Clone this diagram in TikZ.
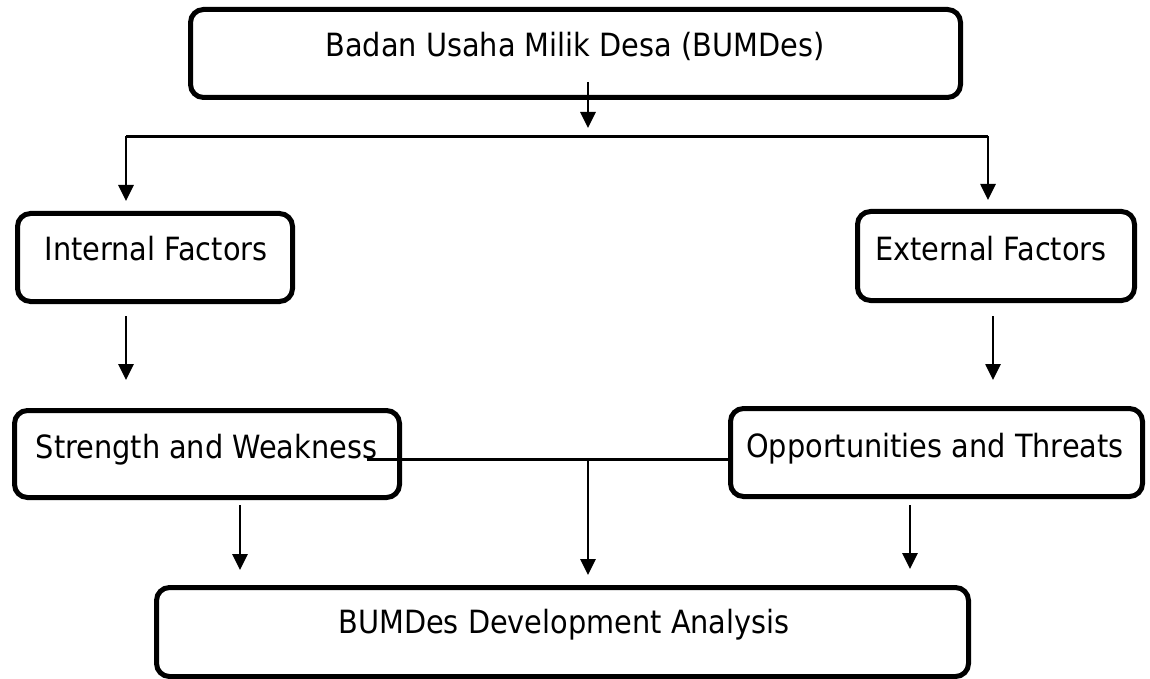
\documentclass[tikz,border=0pt]{standalone}
\usepackage{fontspec}
\setmainfont{DejaVu Sans Condensed}
\usetikzlibrary{arrows.meta}
\begin{document}
\begin{tikzpicture}[x=0.5pt,y=-0.5pt,
  box/.style={draw, line width=2.5pt, rounded corners=6.5pt, inner sep=0pt},
  lbl/.style={font=\fontsize{16pt}{19pt}\selectfont, inner sep=0pt, anchor=base},
  conn/.style={line width=1.35pt},
  arr/.style={conn, -{Triangle[width=7.5pt,length=8pt]}}]
\useasboundingbox (0,0) rectangle (1150,679);
% boxes (sizes in px, half a point each)
\node[box, minimum width=385pt, minimum height=44pt] (top) at (575.5,53.5) {};
\node[box, minimum width=137.5pt, minimum height=44pt] (int) at (155,257.5) {};
\node[box, minimum width=138.5pt, minimum height=44.5pt] (ext) at (996,256) {};
\node[box, minimum width=192.5pt, minimum height=43.5pt] (sw) at (207,454) {};
\node[box, minimum width=206pt, minimum height=44pt] (ot) at (936.5,452.5) {};
\node[box, minimum width=406pt, minimum height=44.5pt] (bot) at (562.5,632) {};
% labels
\node[lbl] (toptext) at (575,57) {Badan Usaha Milik Desa (BUMDes)};
\node[lbl] (inttext) at (156,260) {Internal Factors};
\node[lbl] (exttext) at (991,260) {External Factors};
\node[lbl] (swtext) at (206.5,458) {Strength and Weakness};
\node[lbl] (ottext) at (935,457) {Opportunities and Threats};
\node[lbl] (bottext) at (564,633) {BUMDes Development Analysis};
% connector points
\coordinate (s0) at (588,82);
\coordinate (s1) at (588,128);
\coordinate (jl) at (126,136.5);
\coordinate (jr) at (988,136.5);
\coordinate (il) at (126,201);
\coordinate (ir) at (988,200);
\coordinate (m1) at (126,316);
\coordinate (m1e) at (126,380);
\coordinate (m2) at (993,316);
\coordinate (m2e) at (993,380);
\coordinate (hl) at (367,459.5);
\coordinate (hc) at (588,459.5);
\coordinate (hce) at (588,575);
\coordinate (b1) at (240,505);
\coordinate (b1e) at (240,570);
\coordinate (b2) at (910,505);
\coordinate (b2e) at (910,569);
% connectors
\draw[arr] (s0) -- (s1);
\draw[conn] (jl) -- (jr);
\draw[arr] (jl) -- (il);
\draw[arr] (jr) -- (ir);
\draw[arr] (m1) -- (m1e);
\draw[arr] (m2) -- (m2e);
\draw[conn] (hl) -- (ot.west |- hl);
\draw[arr] (hc) -- (hce);
\draw[arr] (b1) -- (b1e);
\draw[arr] (b2) -- (b2e);
\end{tikzpicture}
\end{document}
